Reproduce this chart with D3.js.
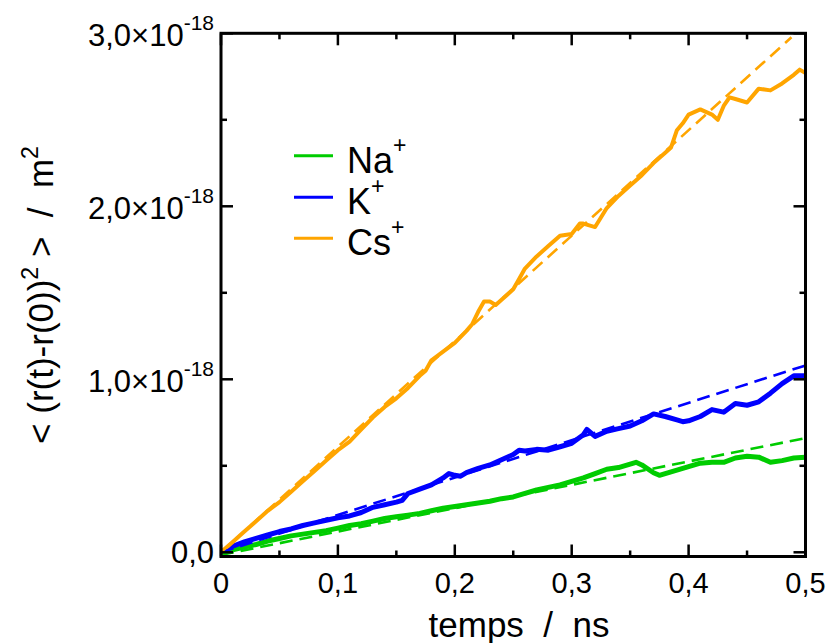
<!DOCTYPE html>
<html>
<head>
<meta charset="utf-8">
<script src="https://cdn.jsdelivr.net/npm/d3@7"></script>
<style>
  html, body { margin: 0; padding: 0; background: #fff; }
  svg text { font-family: "Liberation Sans", Arial, Helvetica, sans-serif; fill: #000; }
</style>
</head>
<body>
<svg id="chart" width="831" height="643"></svg>
<script>
// ---------------- data (t in ns, MSD in 1e-18 m^2) ----------------
const tCs = [0,0.01,0.02,0.03,0.04,0.05,0.06,0.07,0.08,0.09,0.10,0.11,0.12,0.13,0.14,0.15,0.16,0.17,0.175,0.18,0.19,0.20,0.21,0.215,0.22,0.225,0.23,0.235,0.24,0.25,0.255,0.26,0.27,0.28,0.29,0.30,0.307,0.31,0.32,0.33,0.34,0.35,0.36,0.37,0.38,0.385,0.39,0.395,0.40,0.41,0.42,0.425,0.43,0.435,0.44,0.45,0.46,0.47,0.48,0.49,0.495,0.50];
const msdCs = [0,0.06,0.12,0.18,0.24,0.29,0.35,0.41,0.47,0.53,0.59,0.64,0.71,0.78,0.84,0.89,0.95,1.02,1.05,1.11,1.16,1.21,1.28,1.32,1.39,1.45,1.45,1.43,1.46,1.52,1.58,1.64,1.71,1.77,1.83,1.84,1.9,1.9,1.88,1.99,2.06,2.12,2.18,2.25,2.31,2.34,2.44,2.48,2.53,2.56,2.53,2.5,2.58,2.63,2.62,2.6,2.68,2.67,2.71,2.76,2.79,2.77];

const tK = [0,0.01,0.02,0.03,0.04,0.05,0.06,0.07,0.08,0.09,0.10,0.11,0.12,0.13,0.14,0.15,0.155,0.16,0.17,0.18,0.19,0.195,0.20,0.205,0.21,0.22,0.23,0.24,0.25,0.255,0.26,0.27,0.28,0.29,0.30,0.31,0.313,0.32,0.33,0.34,0.35,0.36,0.37,0.38,0.39,0.395,0.40,0.41,0.42,0.43,0.44,0.45,0.46,0.47,0.48,0.49,0.50];
const msdK = [0,0.035,0.06,0.08,0.10,0.12,0.135,0.155,0.17,0.185,0.20,0.21,0.23,0.26,0.275,0.29,0.30,0.34,0.365,0.39,0.43,0.455,0.445,0.44,0.46,0.485,0.505,0.535,0.565,0.59,0.585,0.595,0.59,0.61,0.63,0.68,0.71,0.67,0.70,0.715,0.73,0.76,0.80,0.785,0.765,0.755,0.76,0.785,0.825,0.81,0.86,0.85,0.87,0.92,0.975,1.02,1.02];

const tNa = [0,0.01,0.02,0.03,0.04,0.05,0.06,0.07,0.08,0.09,0.10,0.11,0.12,0.13,0.14,0.15,0.16,0.17,0.18,0.19,0.20,0.21,0.22,0.23,0.24,0.25,0.26,0.27,0.28,0.29,0.30,0.31,0.32,0.33,0.34,0.35,0.355,0.36,0.37,0.375,0.38,0.39,0.40,0.41,0.42,0.43,0.44,0.45,0.46,0.47,0.48,0.49,0.50];
const msdNa = [0,0.015,0.03,0.045,0.065,0.08,0.095,0.105,0.115,0.125,0.14,0.155,0.165,0.18,0.195,0.205,0.215,0.225,0.24,0.255,0.265,0.275,0.285,0.295,0.31,0.32,0.34,0.36,0.375,0.39,0.41,0.43,0.455,0.48,0.49,0.51,0.52,0.505,0.46,0.445,0.455,0.475,0.495,0.515,0.52,0.52,0.545,0.555,0.55,0.52,0.53,0.545,0.55];

// linear fits (slope, intercept) drawn dashed
const fitNames = ["Na", "K", "Cs"];
const fitSlopes = [1.35, 2.16, 6.1];
const fitIntercepts = [-0.015, 0.0, 0.0];
const fitEnds = [0.5, 0.5, 0.488];

const seriesNames = ["Na", "K", "Cs"];
const seriesColors = ["#00cc00", "#0000ff", "#ffa500"];

const xTicks = [0, 0.1, 0.2, 0.3, 0.4, 0.5];
const xTickLabels = ["0", "0,1", "0,2", "0,3", "0,4", "0,5"];
const xMinorTicks = [0.05, 0.15, 0.25, 0.35, 0.45];
const yTicks = [0, 1, 2, 3];
const yTickMantissa = ["0,0", "1,0×10", "2,0×10", "3,0×10"];
const yTickExponent = ["", "-18", "-18", "-18"];
const yMinorTicks = [0.5, 1.5, 2.5];

// ---------------- layout ----------------
const svg = d3.select("#chart");
const L = 221, R = 805.5, T = 33.3, B = 556.5;
const x = d3.scaleLinear().domain([0, 0.5]).range([L, R]);
const y = d3.scaleLinear().domain([-0.0243, 3.0]).range([B, T]);

svg.append("defs").append("clipPath").attr("id", "clip")
  .append("rect").attr("x", L).attr("y", T).attr("width", R - L).attr("height", B - T);

const plot = svg.append("g").attr("clip-path", "url(#clip)");

const line = d3.line().x(d => x(d[0])).y(d => y(d[1]));

const dataSets = [
  d3.zip(tNa, msdNa),
  d3.zip(tK, msdK),
  d3.zip(tCs, msdCs)
];

// data lines
dataSets.forEach((ds, i) => {
  plot.append("path")
    .datum(ds)
    .attr("d", line)
    .attr("fill", "none")
    .attr("stroke", seriesColors[i])
    .attr("stroke-width", i === 2 ? 4 : 5)
    .attr("stroke-linejoin", "round");
});

// fits
fitNames.forEach((n, i) => {
  const pts = [0, fitEnds[i]].map(t => [t, fitSlopes[i] * t + fitIntercepts[i]]);
  plot.append("path")
    .datum(pts)
    .attr("d", line)
    .attr("fill", "none")
    .attr("stroke", seriesColors[i])
    .attr("stroke-width", 2.6)
    .attr("stroke-dasharray", "13,7");
});

// axes with inward ticks on all four sides
const axG = svg.append("g");
function tickLine(x1, y1, x2, y2, w) {
  axG.append("line").attr("x1", x1).attr("y1", y1).attr("x2", x2).attr("y2", y2)
    .attr("stroke", "#000").attr("stroke-width", w);
}
const majLen = 12, minLen = 6, tw = 2.5;
xTicks.forEach(t => {
  tickLine(x(t), B, x(t), B - majLen, tw);
  tickLine(x(t), T, x(t), T + majLen, tw);
});
xMinorTicks.forEach(t => {
  tickLine(x(t), B, x(t), B - minLen, tw);
  tickLine(x(t), T, x(t), T + minLen, tw);
});
yTicks.forEach(v => {
  tickLine(L, y(v), L + majLen, y(v), tw);
  tickLine(R, y(v), R - majLen, y(v), tw);
});
yMinorTicks.forEach(v => {
  tickLine(L, y(v), L + minLen, y(v), tw);
  tickLine(R, y(v), R - minLen, y(v), tw);
});
axG.append("rect").attr("x", L).attr("y", T).attr("width", R - L).attr("height", B - T)
  .attr("fill", "none").attr("stroke", "#000").attr("stroke-width", 3);

// x tick labels
xTicks.forEach((t, i) => {
  svg.append("text").attr("x", x(t)).attr("y", 593)
    .attr("text-anchor", "middle").attr("font-size", 29).text(xTickLabels[i]);
});

// y tick labels
yTicks.forEach((v, i) => {
  const tx = svg.append("text").attr("x", 214).attr("y", y(v) + (i === 0 ? 11 : 13))
    .attr("text-anchor", "end").attr("font-size", 31);
  tx.append("tspan").text(yTickMantissa[i]);
  if (yTickExponent[i]) {
    tx.append("tspan").attr("font-size", 21).attr("dy", -16).text(yTickExponent[i]);
  }
});

// axis titles
svg.append("text").attr("x", 519).attr("y", 637).attr("text-anchor", "middle")
  .attr("font-size", 35).attr("xml:space", "preserve").style("white-space", "pre")
  .text("temps  /  ns");

const yt = svg.append("text")
  .attr("transform", "translate(53,295) rotate(-90)")
  .attr("text-anchor", "middle").attr("font-size", 35)
  .style("white-space", "pre");
yt.append("tspan").text("< (r(t)-r(0))");
yt.append("tspan").attr("font-size", 23).attr("dy", -15).text("2");
yt.append("tspan").attr("dy", 15).text(" >  /  m");
yt.append("tspan").attr("font-size", 23).attr("dy", -15).text("2");

// legend
const legY = [155.7, 197.3, 238.3];
seriesNames.forEach((n, i) => {
  svg.append("line").attr("x1", 294).attr("x2", 333).attr("y1", legY[i]).attr("y2", legY[i])
    .attr("stroke", seriesColors[i]).attr("stroke-width", 3);
  const tx = svg.append("text").attr("x", 347).attr("y", legY[i] + 17).attr("font-size", 36);
  tx.append("tspan").text(n);
  tx.append("tspan").attr("font-size", 23).attr("dy", -20).text("+");
});
</script>
</body>
</html>
